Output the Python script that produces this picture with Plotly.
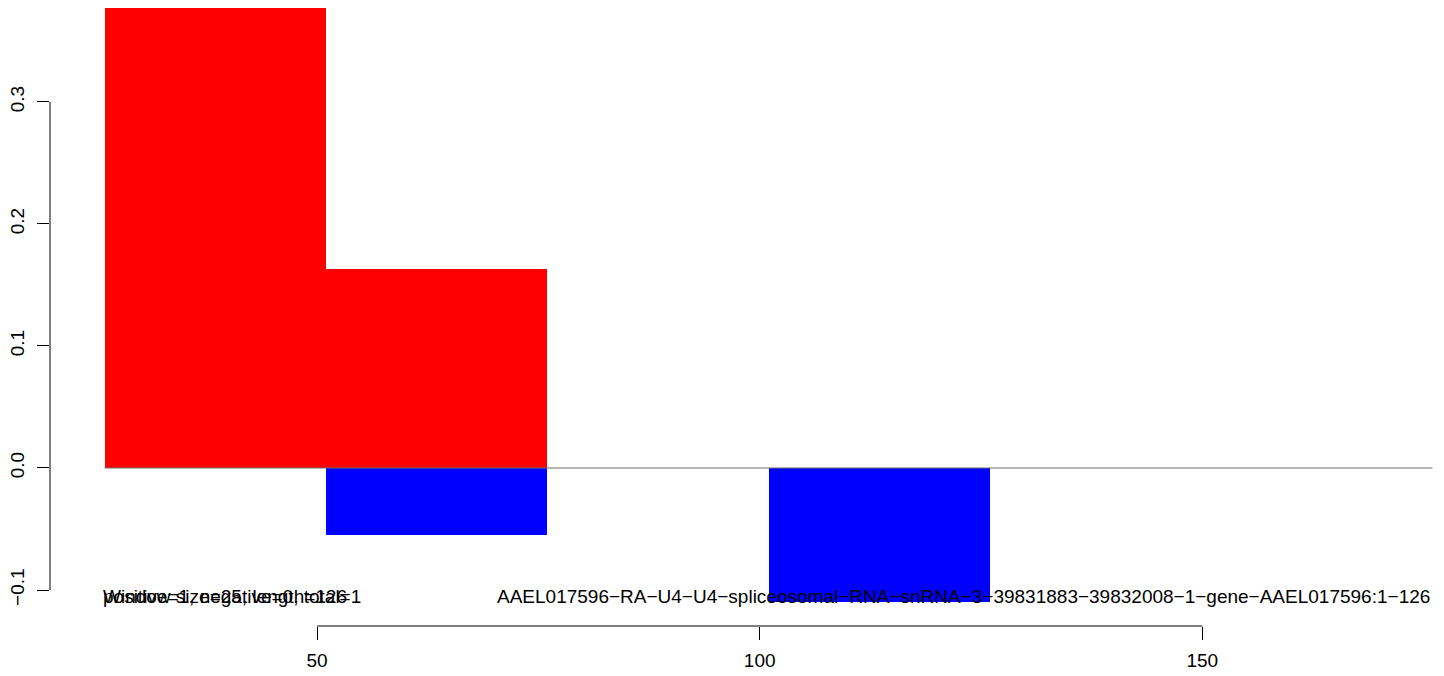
import plotly.graph_objects as go

# Data
window_starts = [26, 51, 76, 101]
window_size = 25
positive_vals = [0.38, 0.163, 0.0, 0.0]
negative_vals = [0.0, -0.055, 0.0, -0.11]
baseline_x = [26, 176]
baseline_y = [0, 0]
x_ticks = [50, 100, 150]
y_ticks = [-0.1, 0.0, 0.1, 0.2, 0.3]
y_ticktext = ["\u22120.1", "0.0", "0.1", "0.2", "0.3"]
info_lines = ["Window size=25, length=126", "positive=1, negative=0, total=1"]
gene_label = "AAEL017596-RA-U4-U4-spliceosomal-RNA-snRNA-3-39831883-39832008-1-gene-AAEL017596:1-126"
text_y = -0.105

FONT = "Liberation Sans, Arial, Helvetica, sans-serif"
FS = 19

fig = go.Figure()
fig.add_trace(go.Bar(x=window_starts, y=positive_vals, width=window_size, offset=0,
                     marker=dict(color="#ff0000", line=dict(width=0)), showlegend=False))
fig.add_trace(go.Bar(x=window_starts, y=negative_vals, width=window_size, offset=0,
                     marker=dict(color="#0000ff", line=dict(width=0)), showlegend=False))
fig.add_trace(go.Scatter(x=baseline_x, y=baseline_y, mode="lines",
                         line=dict(color="#6e6e6e", width=1), showlegend=False))

for t in info_lines:
    fig.add_annotation(x=25.6, y=text_y, text=t, showarrow=False, xanchor="left",
                       yanchor="middle", font=dict(size=FS, color="black", family=FONT))
fig.add_annotation(x=176, y=text_y, text=gene_label.replace("-", "\u2212"), showarrow=False,
                   xanchor="right", yanchor="middle", font=dict(size=FS, color="black", family=FONT))

# axis lines spanning only first to last tick (R style)
fig.add_shape(type="line", xref="x", yref="paper", x0=x_ticks[0], x1=x_ticks[-1], y0=0, y1=0,
              line=dict(color="black", width=1))
fig.add_shape(type="line", xref="paper", yref="y", x0=0, x1=0, y0=y_ticks[0], y1=y_ticks[-1],
              line=dict(color="black", width=1))

fig.update_layout(
    width=1436, height=668,
    margin=dict(l=42, r=0, t=0, b=50),
    plot_bgcolor="white", paper_bgcolor="white",
    barmode="overlay", bargap=0,
    font=dict(family=FONT, size=FS, color="black"),
    xaxis=dict(range=[19.83, 177.3], tickvals=x_ticks, ticks="outside", ticklen=13,
               tickcolor="black", tickwidth=1, showgrid=False, zeroline=False, showline=False,
               tickfont=dict(size=FS), automargin=False, ticklabelstandoff=4),
    yaxis=dict(range=[-0.1295, 0.377], tickvals=y_ticks, ticktext=y_ticktext, ticks="outside",
               ticklen=12, tickcolor="black", tickwidth=1, tickangle=-90, showgrid=False,
               zeroline=False, showline=False, tickfont=dict(size=FS), automargin=False,
               ticklabelstandoff=5),
)

fig.write_html("out.html")
